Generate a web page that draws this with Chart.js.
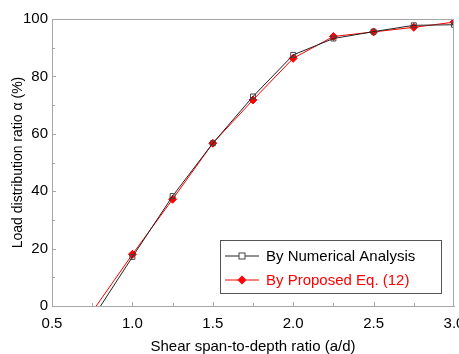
<!DOCTYPE html>
<html>
<head>
<meta charset="utf-8">
<script src="https://cdn.jsdelivr.net/npm/chart.js@4.4.0/dist/chart.umd.min.js"></script>
<style>
  html, body { margin: 0; padding: 0; background: #fff; }
  #wrap { width: 459px; height: 354px; }
</style>
</head>
<body>
<div id="wrap"><canvas id="chart"></canvas></div>
<script>
// shear span-to-depth ratio (a/d); first point sits below 0 and is clipped
const ratios = [0.75, 1.0, 1.25, 1.5, 1.75, 2.0, 2.25, 2.5, 2.75, 3.0];
const numerical = [-4.5, 17.1, 38.3, 56.7, 73.0, 87.5, 93.2, 95.6, 97.8, 98.0];
const proposed = [-2.0, 18.0, 37.2, 56.7, 71.8, 86.3, 93.9, 95.5, 97.1, 98.9];
const xTicks = [0.5, 1.0, 1.5, 2.0, 2.5, 3.0];
const yTicks = [0, 20, 40, 60, 80, 100];

const FONT = 'Liberation Sans, Arial, sans-serif';
const frameColor = '#a6a6a6';

function toPoints(vals) {
    return ratios.map((r, i) => ({ x: r, y: vals[i] }));
}

// frame on top/right plus small inward tick marks
const framePlugin = {
    id: 'frame',
    afterDatasetsDraw(chart) {
        let { ctx, chartArea: a, scales } = chart;
        ctx.save();
        ctx.strokeStyle = frameColor;
        ctx.lineWidth = 1;
        ctx.beginPath();
        ctx.moveTo(a.left, a.top + 0.5);
        ctx.lineTo(a.right, a.top + 0.5);
        ctx.moveTo(a.right - 0.5, a.top);
        ctx.lineTo(a.right - 0.5, a.bottom);
        for (let v = 10; v < 100; v += 10) {
            let y = Math.round(scales.y.getPixelForValue(v)) + 0.5;
            let len = v % 20 === 0 ? 4 : 3;
            ctx.moveTo(a.left, y);
            ctx.lineTo(a.left + len, y);
        }
        for (let v = 0.75; v < 3.0; v += 0.25) {
            let x = Math.round(scales.x.getPixelForValue(v)) + 0.5;
            let len = Math.abs(v * 2 - Math.round(v * 2)) < 1e-6 ? 4 : 3;
            ctx.moveTo(x, a.bottom);
            ctx.lineTo(x, a.bottom - len);
        }
        ctx.stroke();
        ctx.restore();
    },
    afterDraw(chart) {
        // boxed legend inside the plot, lower right
        let { ctx, chartArea: a } = chart;
        let w = 221, h = 53;
        let bx = a.right - 13 - w, by = a.bottom - 13 - h;
        ctx.save();
        ctx.fillStyle = '#fff';
        ctx.fillRect(bx, by, w, h);
        ctx.strokeStyle = '#555';
        ctx.lineWidth = 1;
        ctx.strokeRect(Math.round(bx) + 0.5, Math.round(by) + 0.5, w, h);
        ctx.font = '15px ' + FONT;
        ctx.textBaseline = 'middle';
        chart.data.datasets.forEach((ds, i) => {
            let y = by + 16 + i * 24;
            let x0 = bx + 5, x1 = bx + 39, xm = (x0 + x1) / 2;
            ctx.strokeStyle = ds.borderColor;
            ctx.beginPath();
            ctx.moveTo(x0, y);
            ctx.lineTo(x1, y);
            ctx.stroke();
            if (ds.pointStyle === 'rect') {
                ctx.fillStyle = '#fff';
                ctx.fillRect(xm - 3, y - 3, 6, 6);
                ctx.strokeStyle = ds.pointBorderColor;
                ctx.strokeRect(xm - 3, y - 3, 6, 6);
            } else {
                ctx.fillStyle = ds.pointBackgroundColor;
                ctx.beginPath();
                ctx.moveTo(xm, y - 4.5);
                ctx.lineTo(xm + 4.5, y);
                ctx.lineTo(xm, y + 4.5);
                ctx.lineTo(xm - 4.5, y);
                ctx.closePath();
                ctx.fill();
            }
            ctx.fillStyle = ds.labelColor;
            ctx.fillText(ds.label, bx + 46, y + 1);
        });
        ctx.restore();
    }
};

new Chart(document.getElementById('chart'), {
    type: 'line',
    data: {
        datasets: [{
            label: 'By Numerical Analysis',
            data: toPoints(numerical),
            borderColor: '#222',
            borderWidth: 1,
            pointStyle: 'rect',
            pointRadius: 3.5,
            pointBorderColor: '#444',
            pointBackgroundColor: 'rgba(0,0,0,0)',
            pointBorderWidth: 1,
            labelColor: '#000',
            tension: 0
        }, {
            label: 'By Proposed Eq. (12)',
            data: toPoints(proposed),
            borderColor: '#ff0000',
            borderWidth: 1,
            pointStyle: 'rectRot',
            pointRadius: 4,
            pointBorderColor: '#ff0000',
            pointBackgroundColor: '#ff0000',
            pointBorderWidth: 1,
            labelColor: '#ff0000',
            tension: 0
        }]
    },
    options: {
        responsive: true,
        maintainAspectRatio: false,
        animation: false,
        layout: { padding: { left: 0, right: 5, top: 19, bottom: 0 } },
        plugins: {
            legend: { display: false },
            tooltip: { enabled: false }
        },
        scales: {
            x: {
                type: 'linear',
                min: 0.5,
                max: 3.0,
                afterBuildTicks: s => { s.ticks = xTicks.map(v => ({ value: v })); },
                afterFit: s => { s.height = 48; s.paddingLeft = 0; s.paddingRight = 0; },
                grid: { display: false, drawTicks: false },
                border: { display: true, color: frameColor, width: 1 },
                ticks: {
                    padding: 9,
                    color: '#000',
                    font: { family: FONT, size: 15 },
                    maxRotation: 0,
                    callback: v => v.toFixed(1)
                },
                title: {
                    display: true,
                    text: 'Shear span-to-depth ratio (a/d)',
                    color: '#000',
                    font: { family: FONT, size: 15 },
                    padding: { top: 0, bottom: -2 }
                }
            },
            y: {
                min: 0,
                max: 100,
                afterBuildTicks: s => { s.ticks = yTicks.map(v => ({ value: v })); },
                afterFit: s => { s.width = 52; },
                grid: { display: false, drawTicks: false },
                border: { display: true, color: frameColor, width: 1 },
                ticks: {
                    padding: 4,
                    color: '#000',
                    font: { family: FONT, size: 15 }
                },
                title: {
                    display: true,
                    text: 'Load distribution ratio α (%)',
                    color: '#000',
                    font: { family: FONT, size: 14 },
                    padding: { top: 10, bottom: 0 }
                }
            }
        }
    },
    plugins: [framePlugin]
});
</script>
</body>
</html>
